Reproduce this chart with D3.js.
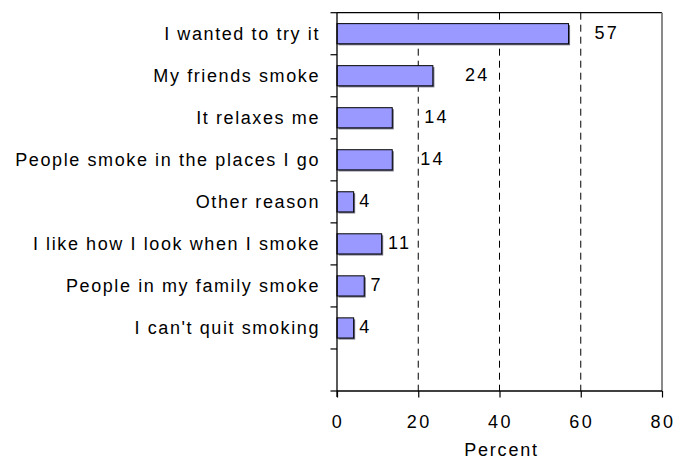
<!DOCTYPE html>
<html>
<head>
<meta charset="utf-8">
<script src="https://cdn.jsdelivr.net/npm/d3@7"></script>
<style>
  html, body { margin: 0; padding: 0; background: #fff; }
  svg { display: block; font-family: "Liberation Sans", Arial, sans-serif; }
</style>
</head>
<body>
<svg id="chart" width="675" height="459"></svg>
<script>
// ---- data ----
const categories = [
  "I wanted to try it",
  "My friends smoke",
  "It relaxes me",
  "People smoke in the places I go",
  "Other reason",
  "I like how I look when I smoke",
  "People in my family smoke",
  "I can't quit smoking",
  ""
];
const values = [57.0, 23.6, 13.6, 13.6, 4.1, 11.0, 6.7, 4.1];
const valueLabels = ["57", "24", "14", "14", "4", "11", "7", "4"];
const xTicks = [0, 20, 40, 60, 80];
const xTitle = "Percent";

// ---- drawing ----
const svg = d3.select("#chart");
const plotLeft = 337, plotRight = 662, plotTop = 12.7, plotBottom = 391;

const x = d3.scaleLinear().domain([0, 80]).range([plotLeft, plotRight]);
const y = d3.scaleBand().domain(categories).range([plotTop, plotBottom])
  .paddingInner(0.52).paddingOuter(0.26);
const step = y.step();

// gridlines (dashed)
svg.append("g").selectAll("line")
  .data(xTicks.filter(t => t > 0 && t < 80))
  .join("line")
  .attr("x1", d => x(d)).attr("x2", d => x(d))
  .attr("y1", plotTop).attr("y2", plotBottom)
  .attr("stroke", "#000").attr("stroke-width", 1)
  .attr("stroke-dasharray", "7,5");

// frame: top (black) and right (gray)
svg.append("line").attr("x1", plotLeft).attr("x2", plotRight).attr("y1", plotTop).attr("y2", plotTop)
  .attr("stroke", "#000").attr("stroke-width", 1.2);
svg.append("line").attr("x1", plotRight).attr("x2", plotRight).attr("y1", plotTop).attr("y2", plotBottom)
  .attr("stroke", "#8a8a8a").attr("stroke-width", 2);

const data = values.map((v, i) => ({ cat: categories[i], v, label: valueLabels[i] }));

// bar shadows
svg.append("g").selectAll("rect")
  .data(data).join("rect")
  .attr("x", x(0) + 1.5)
  .attr("y", d => y(d.cat) + 1.5)
  .attr("width", d => x(d.v) - x(0))
  .attr("height", y.bandwidth())
  .attr("fill", "#6b6b80");

// bars
svg.append("g").selectAll("rect")
  .data(data).join("rect")
  .attr("x", x(0))
  .attr("y", d => y(d.cat))
  .attr("width", d => x(d.v) - x(0))
  .attr("height", y.bandwidth())
  .attr("fill", "#9999FF")
  .attr("stroke", "#000").attr("stroke-width", 1);

// value labels (offsets from bar end, as placed in the original)
const labelGap = [26, 32, 32, 28, 5.6, 6.3, 6.4, 5.6];
svg.append("g").selectAll("text")
  .data(data).join("text")
  .attr("x", (d, i) => x(d.v) + labelGap[i])
  .attr("y", d => y(d.cat) + y.bandwidth() / 2 + 5)
  .attr("font-size", 18)
  .attr("letter-spacing", 2.3)
  .attr("fill", "#000")
  .text(d => d.label);

// y axis
svg.append("g")
  .attr("transform", `translate(${plotLeft},0)`)
  .call(d3.axisLeft(y).tickSize(0).tickPadding(0).tickFormat(""))
  .call(g => g.select(".domain").remove());
svg.append("line").attr("x1", plotLeft).attr("x2", plotLeft).attr("y1", plotTop).attr("y2", plotBottom + 6)
  .attr("stroke", "#000").attr("stroke-width", 1.3);
// category boundary ticks
const boundaries = categories.map(c => y(c) - step * 0.26).concat([plotBottom]);
svg.append("g").selectAll("line")
  .data(boundaries).join("line")
  .attr("x1", plotLeft - 6.5).attr("x2", plotLeft)
  .attr("y1", d => d).attr("y2", d => d)
  .attr("stroke", "#000").attr("stroke-width", 1.2);
// category labels
svg.append("g").selectAll("text")
  .data(categories.filter(c => c !== "")).join("text")
  .attr("x", 320)
  .attr("y", d => y(d) + y.bandwidth() / 2 + 6.3)
  .attr("text-anchor", "end")
  .attr("font-size", 18)
  .attr("letter-spacing", 1.6)
  .attr("fill", "#000")
  .text(d => d);

// x axis
const xAxis = svg.append("g")
  .attr("transform", `translate(0,${plotBottom})`)
  .call(d3.axisBottom(x).tickValues(xTicks).tickSize(6.5).tickSizeOuter(0).tickPadding(0).tickFormat(""));
xAxis.select(".domain").attr("stroke-width", 1.3).attr("d", `M${plotLeft},0H${plotRight}`);
xAxis.selectAll(".tick line").attr("stroke-width", 1.2);
svg.append("g").selectAll("text")
  .data(xTicks).join("text")
  .attr("x", d => x(d) + 1)
  .attr("y", 427.7)
  .attr("text-anchor", "middle")
  .attr("font-size", 18)
  .attr("letter-spacing", 2.5)
  .attr("fill", "#000")
  .text(d => d);

svg.append("text")
  .attr("x", (plotLeft + plotRight) / 2 + 2)
  .attr("y", 456)
  .attr("text-anchor", "middle")
  .attr("font-size", 18)
  .attr("letter-spacing", 1.8)
  .attr("fill", "#000")
  .text(xTitle);
</script>
</body>
</html>
